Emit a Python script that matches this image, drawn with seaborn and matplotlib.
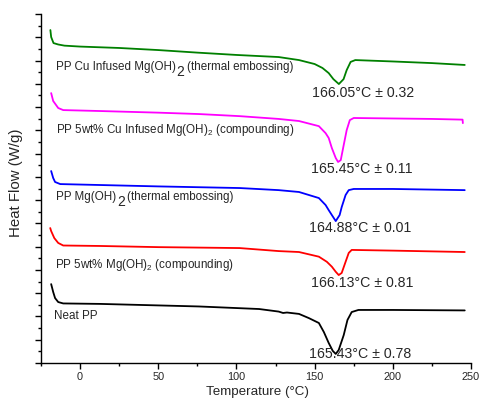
import matplotlib
matplotlib.use("Agg")
import matplotlib.pyplot as plt
from matplotlib.ticker import MultipleLocator, NullFormatter
import seaborn as sns
import pandas as pd

# ---- data ----
t_green = [-19, -18.5, -17, -14, -10, 0, 25, 50, 75, 100, 127, 140, 150, 155, 159, 162,
           165.5, 168.5, 170.5, 173, 176, 200, 225, 246]
hf_green = [14.31, 14.01, 13.75, 13.69, 13.64, 13.60, 13.54, 13.45, 13.34, 13.24, 13.15, 13.02,
            12.85, 12.68, 12.46, 12.20, 11.99, 12.20, 12.59, 12.94, 13.02, 12.96, 12.89, 12.81]

t_magenta = [-18.5, -17.2, -14, -10.8, 12.7, 50, 76, 102, 127, 140, 152.7, 157, 159, 161, 163.5,
             165, 166.7, 168.6, 170.5, 172.5, 175, 200, 225, 244.6, 244.8]
hf_magenta = [11.60, 11.26, 10.96, 10.87, 10.83, 10.76, 10.70, 10.61, 10.49, 10.40, 10.18, 9.88,
              9.67, 9.24, 8.81, 8.64, 8.72, 9.37, 10.01, 10.44, 10.53, 10.51, 10.49, 10.46, 10.31]

t_blue = [-18.5, -17.2, -16, -12.7, 12.7, 50, 102, 127, 140, 152.7, 157, 159, 161, 163.5, 166,
          167.3, 169.8, 171.8, 175, 200, 246]
hf_blue = [8.25, 7.95, 7.78, 7.69, 7.65, 7.59, 7.52, 7.43, 7.35, 7.09, 6.79, 6.57, 6.36, 6.10,
           6.36, 6.70, 7.22, 7.43, 7.48, 7.48, 7.43]

t_red = [-19.1, -18.5, -16.5, -14, -10.8, 12.7, 50, 102, 127, 140, 152.7, 157.8, 161, 163.5,
         165.4, 167.3, 169.8, 171.8, 173.7, 200, 246]
hf_red = [5.80, 5.67, 5.37, 5.16, 5.05, 5.03, 4.98, 4.94, 4.81, 4.77, 4.57, 4.35, 4.14, 3.92,
          3.78, 3.87, 4.35, 4.73, 4.86, 4.83, 4.77]

t_black = [-18.5, -17.2, -16, -14, -10.8, 12.7, 76, 114.5, 127, 129.8, 132.3, 140, 146.3, 152.7,
           155.9, 159, 161.6, 163.5, 165.4, 168.6, 171, 173.7, 178, 200, 246]
hf_black = [3.39, 3.05, 2.79, 2.62, 2.56, 2.54, 2.43, 2.32, 2.21, 2.15, 2.17, 2.11, 1.93, 1.72,
            1.33, 0.86, 0.52, 0.39, 0.56, 1.20, 1.85, 2.19, 2.28, 2.28, 2.26]

series_names = ["cu_emboss", "cu_comp", "mg_emboss", "mg_comp", "neat"]
series_colors = ["#008000", "#ff00ff", "#0000ff", "#ff0000", "#000000"]
peak_labels = ["166.05°C ± 0.32", "165.45°C ± 0.11", "164.88°C ± 0.01",
               "166.13°C ± 0.81", "165.43°C ± 0.78"]
x_ticks = [0, 50, 100, 150, 200, 250]

# ---- build table ----
frames = []
for name, t, h in zip(series_names,
                      [t_green, t_magenta, t_blue, t_red, t_black],
                      [hf_green, hf_magenta, hf_blue, hf_red, hf_black]):
    frames.append(pd.DataFrame({"T": t, "HF": h, "series": name}))
df = pd.concat(frames, ignore_index=True)

sns.set_style("ticks")
plt.rcParams["font.family"] = ["Liberation Sans", "DejaVu Sans"]
plt.rcParams["mathtext.fontset"] = "custom"
plt.rcParams["mathtext.rm"] = "Liberation Sans"
plt.rcParams["mathtext.it"] = "Liberation Sans:italic"

fig = plt.figure(figsize=(4.8, 4.07), dpi=100)
ax = fig.add_axes([41 / 480, 1 - 363 / 407, (471 - 41) / 480, (363 - 14) / 407])

sns.lineplot(data=df, x="T", y="HF", hue="series", hue_order=series_names,
             palette=dict(zip(series_names, series_colors)), estimator=None,
             sort=False, legend=False, linewidth=1.3, ax=ax)

ax.set_xlim(-25, 250)
ax.set_ylim(0, 15)
ax.set_xticks(x_ticks)
ax.xaxis.set_minor_locator(MultipleLocator(25))
ax.yaxis.set_major_locator(MultipleLocator(1))
ax.yaxis.set_minor_locator(MultipleLocator(0.5))
ax.yaxis.set_major_formatter(NullFormatter())
ax.tick_params(axis="both", which="major", direction="out", length=4.5, width=1,
               color="black", labelsize=7.8, pad=2)
ax.tick_params(axis="both", which="minor", direction="out", length=2.5, width=1, color="black")
for s in ["top", "right"]:
    ax.spines[s].set_visible(False)
for s in ["left", "bottom"]:
    ax.spines[s].set_linewidth(1)
    ax.spines[s].set_color("black")
ax.set_xlabel("")
ax.set_ylabel("")

fig.text(257 / 480, 1 - 392 / 407, "Temperature (°C)", ha="center", va="center", fontsize=9.6)
fig.text(16 / 480, 1 - 183 / 407, "Heat Flow (W/g)", ha="center", va="center",
         rotation=90, fontsize=10.8)

# series labels
lab_fs = 8.4


def big_sub_label(x, y, pre, post):
    t1 = ax.text(x, y, pre, ha="left", va="center", fontsize=lab_fs)
    t2 = ax.annotate("2", xy=(1, 0.5), xycoords=t1, xytext=(0.4, -3.5),
                     textcoords="offset points", ha="left", va="center", fontsize=10)
    ax.annotate(post, xy=(1, 0.5), xycoords=(t2, t1), xytext=(1.5, 0),
                textcoords="offset points", ha="left", va="center", fontsize=lab_fs)


big_sub_label(-15.3, 12.72, "PP Cu Infused Mg(OH)", "(thermal embossing)")
ax.text(-15.3, 10.01, "PP 5wt% Cu Infused Mg(OH)$_2$ (compounding)", ha="left",
        va="center", fontsize=lab_fs)
big_sub_label(-15.3, 7.13, "PP Mg(OH)", "(thermal embossing)")
ax.text(-16.0, 4.21, "PP 5wt% Mg(OH)$_2$ (compounding)", ha="left", va="center",
        fontsize=lab_fs)
ax.text(-16.5, 2.02, "Neat PP", ha="left", va="center", fontsize=lab_fs)

# peak labels
peak_x = [181, 180.3, 179.4, 180.7, 178.8]
peak_y = [11.60, 8.34, 5.80, 3.44, 0.39]
for px_, py_, lab in zip(peak_x, peak_y, peak_labels):
    ax.text(px_, py_, lab, ha="center", va="center", fontsize=10.2)

fig.savefig("out.png", dpi=100)
